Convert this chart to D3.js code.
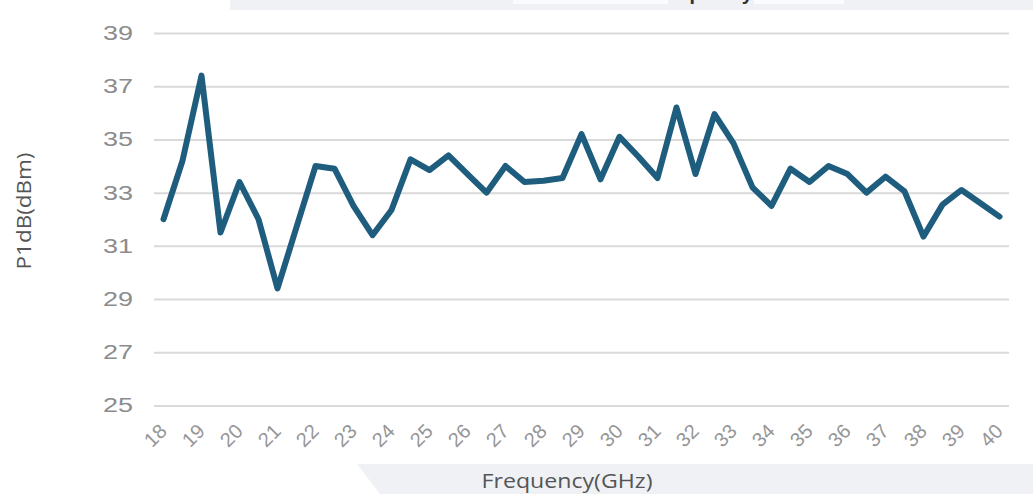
<!DOCTYPE html>
<html>
<head>
<meta charset="utf-8">
<script src="https://cdn.jsdelivr.net/npm/d3@7"></script>
<style>
  body { margin: 0; background: #fff; }
  svg { display: block; }
</style>
</head>
<body>
<div id="chart"></div>
<script>
  // frequency points, every 0.5 GHz
  let freqs = ['18','18.5','19','19.5','20','20.5','21','21.5','22','22.5',
               '23','23.5','24','24.5','25','25.5','26','26.5','27','27.5',
               '28','28.5','29','29.5','30','30.5','31','31.5','32','32.5',
               '33','33.5','34','34.5','35','35.5','36','36.5','37','37.5',
               '38','38.5','39','39.5','40']

  let p1db = [32.0, 34.2, 37.4, 31.5, 33.4, 32.0, 29.4, 31.7, 34.0, 33.9,
              32.5, 31.4, 32.35, 34.25, 33.85, 34.4, 33.7, 33.0, 34.0, 33.4,
              33.45, 33.55, 35.2, 33.5, 35.1, 34.35, 33.55, 36.2, 33.7, 35.95,
              34.85, 33.2, 32.5, 33.9, 33.4, 34.0, 33.7, 33.0, 33.6, 33.05,
              31.35, 32.55, 33.1, 32.6, 32.1]

  let xTickLabels = ['18','19','20','21','22','23','24','25','26','27','28','29',
                     '30','31','32','33','34','35','36','37','38','39','40']
  let yTicks = [25, 27, 29, 31, 33, 35, 37, 39]

  let chartWidth = 1033
  let chartHeight = 494
  let plotLeft = 154
  let plotRight = 1009
  let plotTop = 33
  let plotBottom = 405.5

  let svg = d3.select('#chart')
              .append('svg')
                .attr('width', chartWidth)
                .attr('height', chartHeight)

  // cropped bands from the original screenshot
  svg.append('rect')
    .attr('x', 230).attr('y', 0)
    .attr('width', chartWidth - 230).attr('height', 10)
    .attr('fill', '#eff1f5')
  svg.append('rect').attr('x', 513).attr('y', 0).attr('width', 155).attr('height', 4).attr('fill', '#fbfbfd')
  svg.append('rect').attr('x', 754).attr('y', 0).attr('width', 90).attr('height', 4).attr('fill', '#fbfbfd')

  svg.append('defs').append('clipPath').attr('id', 'topclip')
    .append('rect').attr('x', 230).attr('y', 0).attr('width', chartWidth - 230).attr('height', 10)
  svg.append('text')
    .attr('clip-path', 'url(#topclip)')
    .attr('x', 660).attr('y', 0)
    .attr('text-anchor', 'middle')
    .attr('font-family', 'Liberation Sans, Arial, sans-serif')
    .attr('font-size', 20)
    .attr('font-weight', 'bold')
    .attr('fill', '#333')
    .text('P1dB vs Frequency')

  svg.append('polygon')
    .attr('points', '357,464 1033,464 1033,494 380,494')
    .attr('fill', '#eff1f5')

  let xScale = d3.scalePoint()
                .domain(freqs)
                .range([plotLeft, plotRight])
                .padding(0.5)

  let yScale = d3.scaleLinear()
                .domain([25, 39])
                .range([plotBottom, plotTop])

  // gridlines + y labels
  let yAxis = d3.axisLeft(yScale)
                .tickValues(yTicks)
                .tickSize(-(plotRight - plotLeft))
                .tickPadding(21)

  let yg = svg.append('g')
              .attr('transform', 'translate(' + plotLeft + ',0)')
              .call(yAxis)
  yg.select('.domain').remove()
  yg.selectAll('line').attr('stroke', '#d9d9d9').attr('stroke-width', 2)
  yg.selectAll('text')
    .attr('fill', '#8c8c8c')
    .attr('font-size', 20)
    .attr('font-family', 'Liberation Sans, Arial, sans-serif')
    .attr('textLength', 30)
    .attr('lengthAdjust', 'spacingAndGlyphs')

  // x labels every other category, rotated
  let xAxis = d3.axisBottom(xScale)
                .tickValues(xTickLabels)
                .tickSize(0)

  let xg = svg.append('g')
              .attr('transform', 'translate(0,' + plotBottom + ')')
              .call(xAxis)
  xg.select('.domain').remove()
  xg.selectAll('text')
    .attr('fill', '#969696')
    .attr('font-size', 20)
    .attr('font-family', 'Liberation Sans, Arial, sans-serif')
    .attr('text-anchor', 'end')
    .attr('y', 0)
    .attr('dy', 0)
    .attr('transform', 'translate(4,27) rotate(-45)')

  let line = d3.line()
              .x((d, i) => { return xScale(freqs[i]) })
              .y((d) => { return yScale(d) })

  svg.append('path')
    .datum(p1db)
    .attr('d', line)
    .attr('fill', 'none')
    .attr('stroke', '#1e5d7e')
    .attr('stroke-width', 6)
    .attr('stroke-linejoin', 'round')
    .attr('stroke-linecap', 'round')

  svg.append('text')
    .attr('transform', 'translate(31,' + 211 + ') rotate(-90)')
    .attr('text-anchor', 'middle')
    .attr('font-family', 'Open Sans, sans-serif')
    .attr('font-size', 20)
    .attr('fill', '#555')
    .attr('textLength', 117)
    .attr('lengthAdjust', 'spacingAndGlyphs')
    .text('P1dB(dBm)')

  svg.append('text')
    .attr('x', 567)
    .attr('y', 488)
    .attr('text-anchor', 'middle')
    .attr('font-family', 'Open Sans, sans-serif')
    .attr('font-size', 20)
    .attr('fill', '#555')
    .attr('textLength', 171)
    .attr('lengthAdjust', 'spacingAndGlyphs')
    .text('Frequency(GHz)')
</script>
</body>
</html>
